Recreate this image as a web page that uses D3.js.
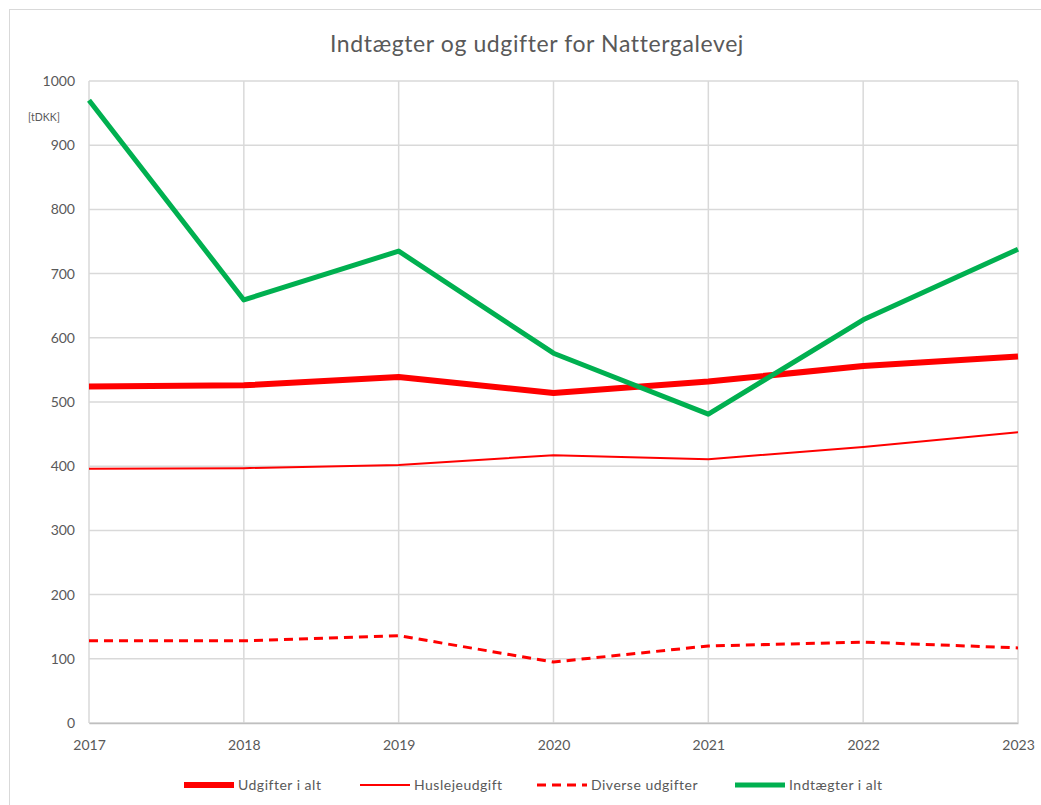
<!DOCTYPE html>
<html>
<head>
<meta charset="utf-8">
<script src="https://cdn.jsdelivr.net/npm/d3@7"></script>
<style>
  body { margin: 0; background: #fff; }
  svg { display: block; font-family: Lato, "Open Sans", sans-serif; }
</style>
</head>
<body>
<svg id="chart" width="1041" height="805"></svg>
<script>
const years = [2017, 2018, 2019, 2020, 2021, 2022, 2023]
const udgifterIAlt = [524, 526, 539, 514, 532, 556, 571]
const huslejeudgift = [396, 397, 402, 417, 411, 430, 453]
const diverseUdgifter = [128, 128, 136, 95, 120, 126, 117]
const indtaegterIAlt = [970, 659, 735, 576, 481, 628, 738]
const yTicks = [0, 100, 200, 300, 400, 500, 600, 700, 800, 900, 1000]

const series = [
    { name: 'Udgifter i alt', values: udgifterIAlt, color: '#ff0000', width: 6, dash: null },
    { name: 'Huslejeudgift', values: huslejeudgift, color: '#ff0000', width: 2, dash: null },
    { name: 'Diverse udgifter', values: diverseUdgifter, color: '#ff0000', width: 3, dash: '9,6' },
    { name: 'Indtægter i alt', values: indtaegterIAlt, color: '#00b050', width: 5, dash: null }
]

const svg = d3.select('#chart')
const margin = { left: 89, right: 1018, top: 81, bottom: 723 }
const textColor = '#595959'
const font = 'Lato, "Open Sans", sans-serif'

// outer frame
svg.append('rect').attr('x', 9.5).attr('y', 9.5).attr('width', 1040).attr('height', 800)
    .attr('fill', 'none').attr('stroke', '#d9d9d9')

const x = d3.scaleLinear().domain([2017, 2023]).range([margin.left, margin.right])
const y = d3.scaleLinear().domain([0, 1000]).range([margin.bottom, margin.top])

// grid
svg.append('g').selectAll('line').data(yTicks).enter().append('line')
    .attr('x1', margin.left).attr('x2', margin.right)
    .attr('y1', d => y(d)).attr('y2', d => y(d))
    .attr('stroke', '#d9d9d9').attr('stroke-width', 1.5)
svg.append('g').selectAll('line').data(years).enter().append('line')
    .attr('x1', d => x(d)).attr('x2', d => x(d))
    .attr('y1', margin.top).attr('y2', margin.bottom)
    .attr('stroke', '#d9d9d9').attr('stroke-width', 1.5)

// axes
const yAxis = svg.append('g').attr('transform', `translate(${margin.left},0)`)
    .call(d3.axisLeft(y).tickValues(yTicks).tickFormat(d3.format('d')).tickSize(0).tickPadding(14))
yAxis.select('.domain').remove()

const xAxis = svg.append('g').attr('transform', `translate(0,${margin.bottom})`)
    .call(d3.axisBottom(x).tickValues(years).tickFormat(d3.format('d')).tickSize(0).tickPadding(17))
xAxis.select('.domain').attr('stroke', '#bfbfbf').attr('stroke-width', 1.5)

svg.selectAll('.tick text').attr('fill', textColor).attr('font-size', 14).attr('font-family', font)

svg.append('text').attr('x', 44).attr('y', 121).attr('text-anchor', 'middle')
    .attr('fill', textColor).attr('font-size', 10.5).text('[tDKK]')

// lines
const line = d3.line().x((d, i) => x(years[i])).y(d => y(d))
svg.append('g').selectAll('path').data(series).enter().append('path')
    .attr('d', d => line(d.values))
    .attr('fill', 'none')
    .attr('stroke', d => d.color)
    .attr('stroke-width', d => d.width)
    .attr('stroke-dasharray', d => d.dash)
    .attr('stroke-linejoin', 'round')

// title
svg.append('text').attr('x', 537).attr('y', 52).attr('text-anchor', 'middle')
    .attr('fill', textColor).attr('font-size', 23).attr('letter-spacing', 0.6)
    .text('Indtægter og udgifter for Nattergalevej')

// legend
const legendX = [184, 360, 537, 735]
const legend = svg.append('g').selectAll('g').data(series).enter().append('g')
    .attr('transform', (d, i) => `translate(${legendX[i]},785)`)
legend.append('line').attr('x1', 0).attr('x2', 50).attr('y1', 0).attr('y2', 0)
    .attr('stroke', d => d.color).attr('stroke-width', d => d.width)
    .attr('stroke-dasharray', d => d.dash)
legend.append('text').attr('x', 54).attr('y', 5).attr('fill', textColor)
    .attr('font-size', 14).attr('letter-spacing', 0.5).text(d => d.name)
</script>
</body>
</html>
